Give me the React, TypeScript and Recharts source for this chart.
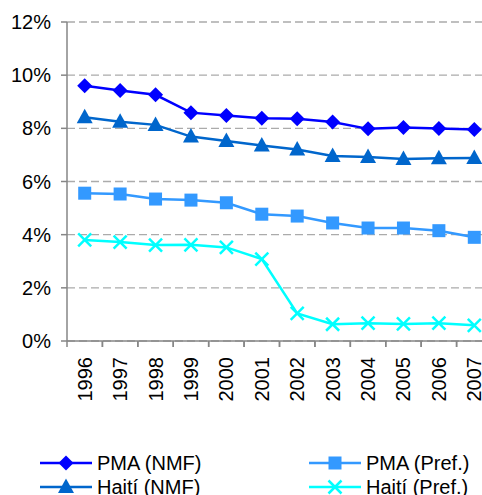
import React from "react";
import { LineChart, Line, XAxis, YAxis, CartesianGrid } from "recharts";

const years = ["1996","1997","1998","1999","2000","2001","2002","2003","2004","2005","2006","2007"];
const pmaNMF = [9.6, 9.42, 9.26, 8.59, 8.48, 8.38, 8.36, 8.24, 7.98, 8.03, 7.99, 7.96];
const haitiNMF = [8.42, 8.25, 8.13, 7.69, 7.52, 7.35, 7.2, 6.96, 6.92, 6.85, 6.87, 6.88];
const pmaPref = [5.56, 5.53, 5.34, 5.3, 5.2, 4.77, 4.7, 4.44, 4.25, 4.25, 4.15, 3.9];
const haitiPref = [3.8, 3.72, 3.61, 3.62, 3.52, 3.08, 1.04, 0.63, 0.67, 0.64, 0.67, 0.59];
const yTicks = [0, 2, 4, 6, 8, 10, 12];

const data = years.map((y, i) => ({
  year: y,
  pmaNMF: pmaNMF[i],
  haitiNMF: haitiNMF[i],
  pmaPref: pmaPref[i],
  haitiPref: haitiPref[i],
}));

const FONT = "'Liberation Sans', Arial, sans-serif";
const AXIS = "#868686";

type Shape = "diamond" | "triangle" | "square" | "cross";

const series: { key: string; name: string; color: string; shape: Shape }[] = [
  { key: "pmaNMF", name: "PMA (NMF)", color: "#0000FF", shape: "diamond" },
  { key: "pmaPref", name: "PMA (Pref.)", color: "#3399FF", shape: "square" },
  { key: "haitiNMF", name: "Haití (NMF)", color: "#0066CC", shape: "triangle" },
  { key: "haitiPref", name: "Haití (Pref.)", color: "#00FFFF", shape: "cross" },
];

function marker(shape: Shape, color: string, cx: number, cy: number, k?: string) {
  if (shape === "diamond")
    return <polygon key={k} points={`${cx},${cy - 7.5} ${cx + 7.5},${cy} ${cx},${cy + 7.5} ${cx - 7.5},${cy}`} fill={color} />;
  if (shape === "triangle")
    return <polygon key={k} points={`${cx},${cy - 8.5} ${cx + 8},${cy + 6} ${cx - 8},${cy + 6}`} fill={color} />;
  if (shape === "square")
    return <rect key={k} x={cx - 6.5} y={cy - 6.5} width={13} height={13} fill={color} />;
  return (
    <g key={k}>
      <line x1={cx - 6.5} y1={cy - 6.5} x2={cx + 6.5} y2={cy + 6.5} stroke={color} strokeWidth={2.5} />
      <line x1={cx - 6.5} y1={cy + 6.5} x2={cx + 6.5} y2={cy - 6.5} stroke={color} strokeWidth={2.5} />
    </g>
  );
}

function makeDot(shape: Shape, color: string) {
  return (props: any) => {
    const { cx, cy, index } = props;
    if (cx == null || cy == null) return <g key={index} />;
    return marker(shape, color, cx, cy, String(index));
  };
}

function XTick(props: any) {
  const { x, y, payload } = props;
  const off = payload && payload.offset ? payload.offset : 17.7;
  const axisY = y - 8;
  return (
    <g>
      <line x1={x - off} y1={axisY} x2={x - off} y2={axisY + 6} stroke={AXIS} strokeWidth={1.5} />
      <line x1={x + off} y1={axisY} x2={x + off} y2={axisY + 6} stroke={AXIS} strokeWidth={1.5} />
      <text
        x={x}
        y={y + 8}
        transform={`rotate(-90 ${x} ${y + 8})`}
        textAnchor="end"
        dy="0.35em"
        fontSize={20}
        fontFamily={FONT}
        fill="#000"
      >
        {payload.value}
      </text>
    </g>
  );
}

function LegendItem({ s }: { s: (typeof series)[number] }) {
  return (
    <div style={{ display: "flex", alignItems: "center", height: 24 }}>
      <svg width={54} height={20} style={{ display: "block" }}>
        <line x1={1} y1={10} x2={53} y2={10} stroke={s.color} strokeWidth={2.5} />
        {marker(s.shape, s.color, 27, 10)}
      </svg>
      <span style={{ marginLeft: 4, fontSize: 20, fontFamily: FONT, color: "#000", whiteSpace: "nowrap" }}>{s.name}</span>
    </div>
  );
}

export default function App() {
  return (
    <div style={{ position: "absolute", left: 0, top: 0, width: 482, height: 495, overflow: "hidden", background: "#fff" }}>
      <LineChart
        width={500}
        height={495}
        data={data}
        margin={{ top: 22, right: 8, left: 7, bottom: 84 }}
      >
        <CartesianGrid vertical={false} stroke="#ababab" strokeDasharray="8 4" strokeWidth={1.3} />
        <XAxis
          dataKey="year"
          scale="band"
          height={70}
          interval={0}
          tick={<XTick />}
          tickLine={false}
          axisLine={{ stroke: AXIS, strokeWidth: 1.5 }}
        />
        <YAxis
          width={60}
          domain={[0, 12]}
          ticks={yTicks}
          interval={0}
          tickFormatter={(v: number) => `${v}%`}
          tick={{ fontSize: 20, fontFamily: FONT, fill: "#000" }}
          tickLine={{ stroke: AXIS, strokeWidth: 1.5 }}
          tickSize={6}
          tickMargin={10}
          axisLine={{ stroke: AXIS, strokeWidth: 1.5 }}
        />
        {series.map((s) => (
          <Line
            key={s.key}
            dataKey={s.key}
            name={s.name}
            stroke={s.color}
            strokeWidth={2.5}
            dot={makeDot(s.shape, s.color)}
            activeDot={false}
            isAnimationActive={false}
          />
        ))}
      </LineChart>
      <div style={{ position: "absolute", left: 39, top: 451, display: "grid", gridTemplateColumns: "269px 180px", rowGap: 0 }}>
        <LegendItem s={series[0]} />
        <LegendItem s={series[1]} />
        <LegendItem s={series[2]} />
        <LegendItem s={series[3]} />
      </div>
    </div>
  );
}
